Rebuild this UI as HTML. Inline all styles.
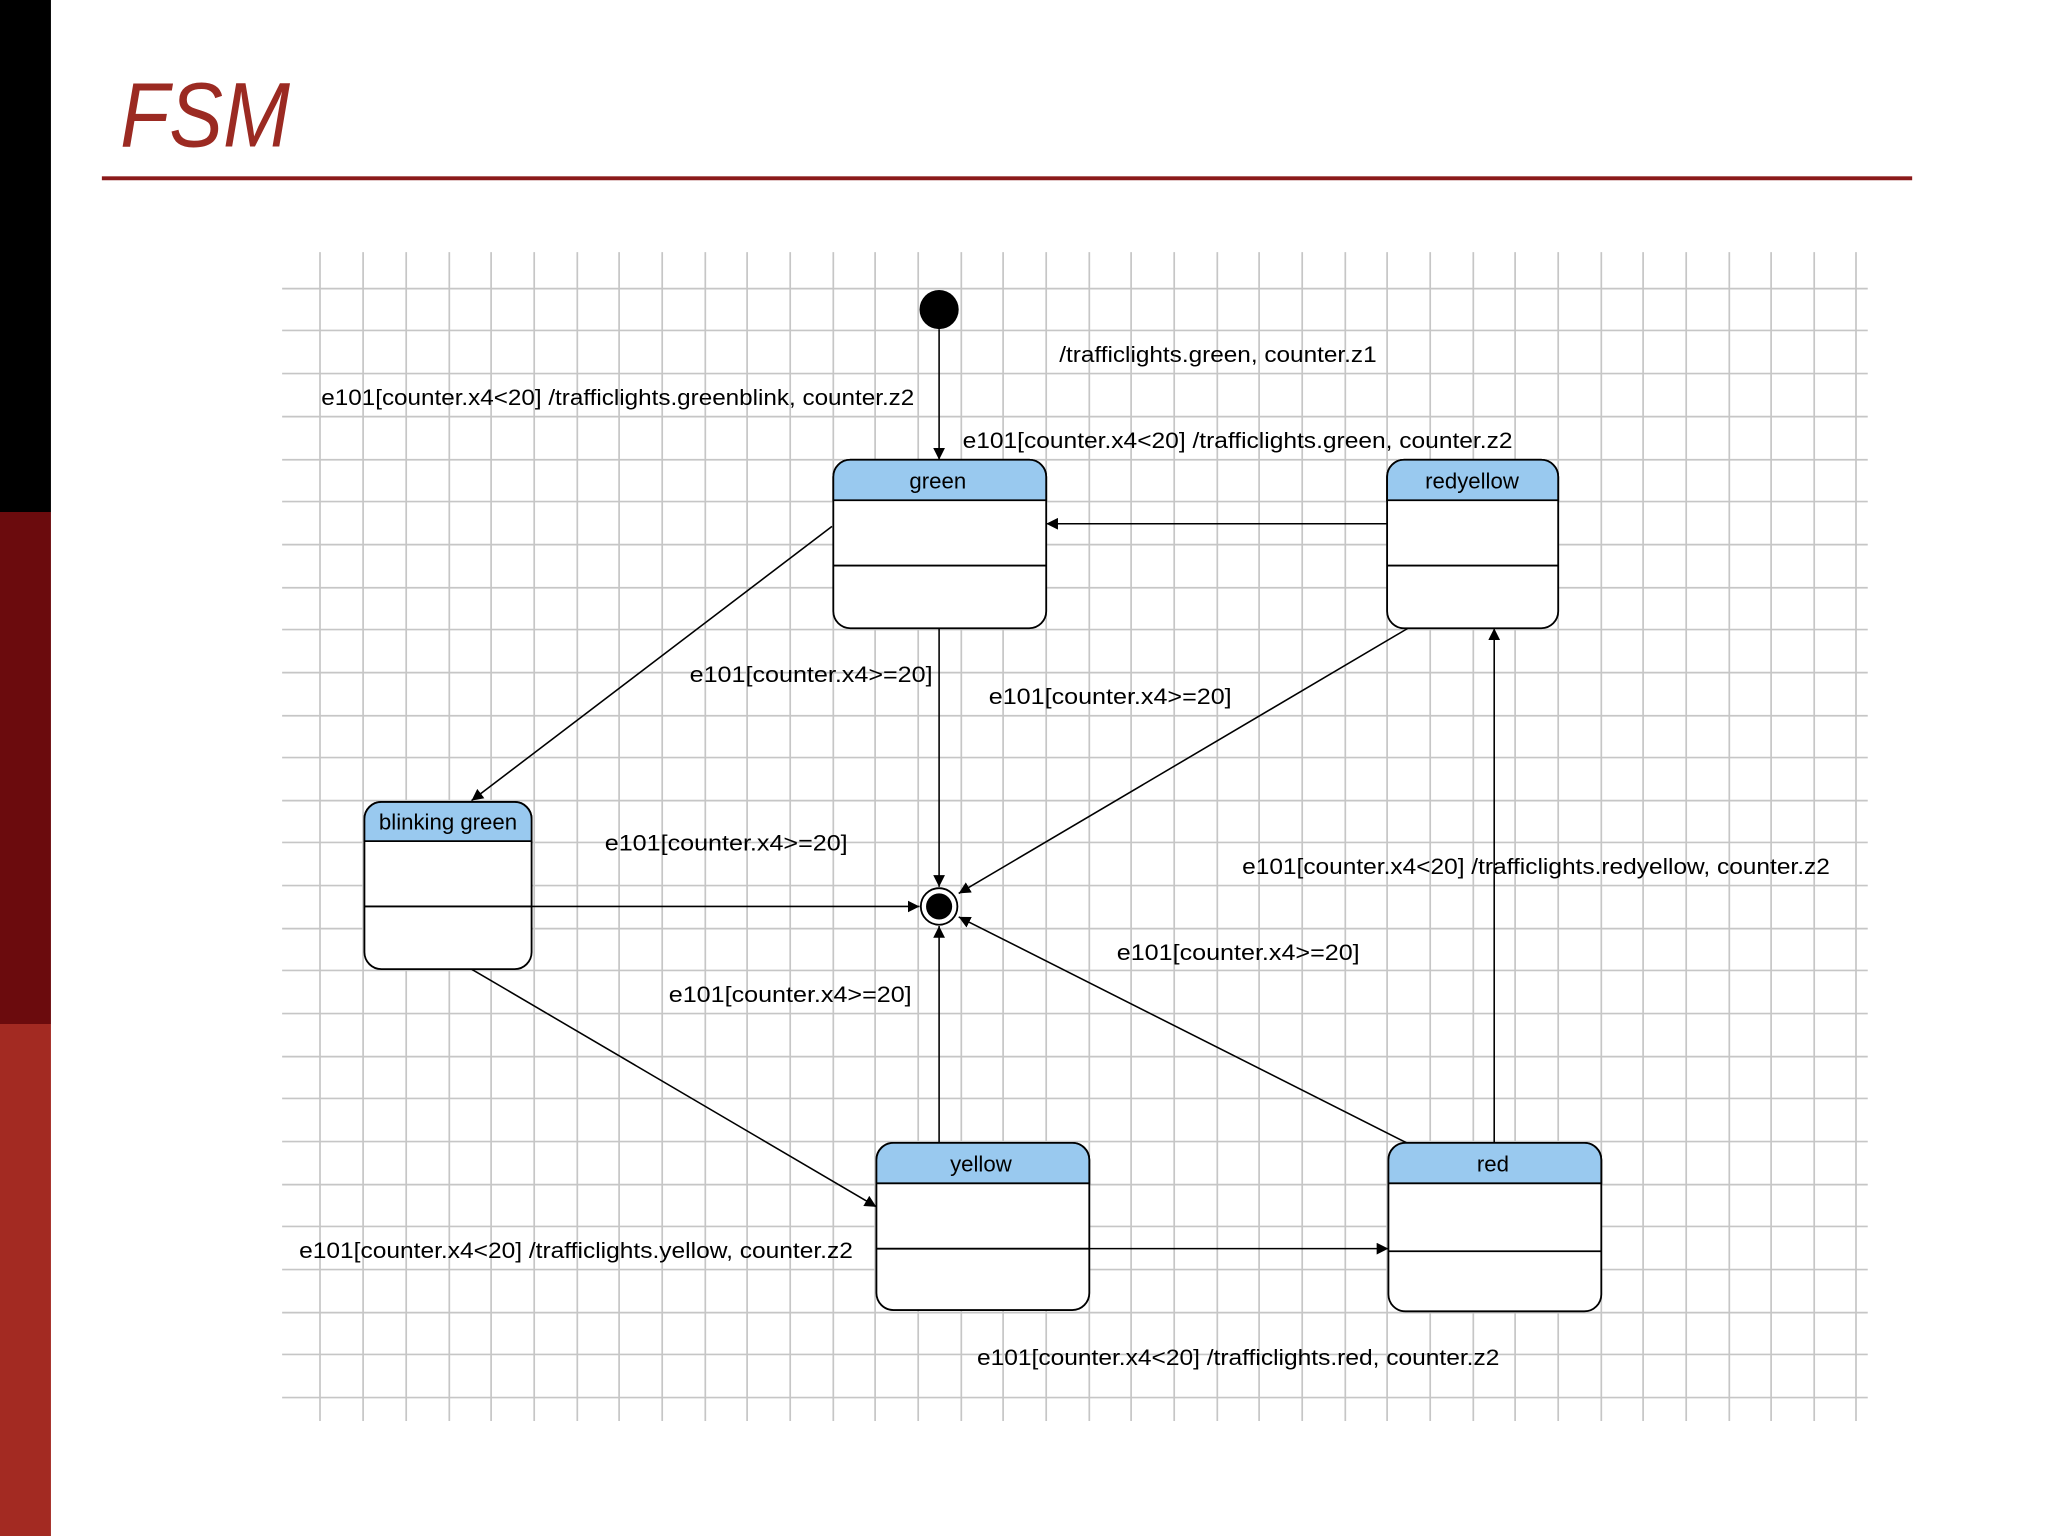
<!DOCTYPE html>
<html><head><meta charset="utf-8"><style>
html,body{margin:0;padding:0;background:#fff;}
svg{display:block;}
</style></head><body>
<svg width="2048" height="1536" viewBox="0 0 1568 1176" xmlns="http://www.w3.org/2000/svg">
<defs>
<marker id="a" viewBox="0 0 10 10" refX="10" refY="5" markerWidth="9" markerHeight="9" markerUnits="userSpaceOnUse" orient="auto">
<path d="M0,0 L10,5 L0,10 z" fill="#000"/>
</marker>
</defs>
<rect x="0" y="0" width="1568" height="1176" fill="#fff"/>
<rect x="0" y="0" width="39" height="392" fill="#000"/>
<rect x="0" y="392" width="39" height="392" fill="#6b0b0d"/>
<rect x="0" y="784" width="39" height="392" fill="#a32a22"/>
<text x="92" y="112" font-family="Liberation Sans, sans-serif" font-size="70" font-style="italic" fill="#9b2a22" textLength="130" lengthAdjust="spacingAndGlyphs">FSM</text>
<rect x="78" y="135" width="1386" height="3" fill="#8b1a1a"/>
<g stroke="#c6c6c6" stroke-width="1.3" id="grid">
<script></script>
</g>
<g stroke="#c6c6c6" stroke-width="1.3">
<line x1="245" y1="193" x2="245" y2="1088"/><line x1="278" y1="193" x2="278" y2="1088"/><line x1="311" y1="193" x2="311" y2="1088"/><line x1="344" y1="193" x2="344" y2="1088"/><line x1="376" y1="193" x2="376" y2="1088"/><line x1="409" y1="193" x2="409" y2="1088"/><line x1="442" y1="193" x2="442" y2="1088"/><line x1="474" y1="193" x2="474" y2="1088"/><line x1="507" y1="193" x2="507" y2="1088"/><line x1="540" y1="193" x2="540" y2="1088"/><line x1="572" y1="193" x2="572" y2="1088"/><line x1="605" y1="193" x2="605" y2="1088"/><line x1="638" y1="193" x2="638" y2="1088"/><line x1="670" y1="193" x2="670" y2="1088"/><line x1="703" y1="193" x2="703" y2="1088"/><line x1="736" y1="193" x2="736" y2="1088"/><line x1="768" y1="193" x2="768" y2="1088"/><line x1="801" y1="193" x2="801" y2="1088"/><line x1="834" y1="193" x2="834" y2="1088"/><line x1="866" y1="193" x2="866" y2="1088"/><line x1="899" y1="193" x2="899" y2="1088"/><line x1="932" y1="193" x2="932" y2="1088"/><line x1="964" y1="193" x2="964" y2="1088"/><line x1="997" y1="193" x2="997" y2="1088"/><line x1="1030" y1="193" x2="1030" y2="1088"/><line x1="1062" y1="193" x2="1062" y2="1088"/><line x1="1095" y1="193" x2="1095" y2="1088"/><line x1="1128" y1="193" x2="1128" y2="1088"/><line x1="1160" y1="193" x2="1160" y2="1088"/><line x1="1193" y1="193" x2="1193" y2="1088"/><line x1="1226" y1="193" x2="1226" y2="1088"/><line x1="1258" y1="193" x2="1258" y2="1088"/><line x1="1291" y1="193" x2="1291" y2="1088"/><line x1="1324" y1="193" x2="1324" y2="1088"/><line x1="1356" y1="193" x2="1356" y2="1088"/><line x1="1389" y1="193" x2="1389" y2="1088"/><line x1="1421" y1="193" x2="1421" y2="1088"/>
<line x1="216" y1="221" x2="1430" y2="221"/><line x1="216" y1="253" x2="1430" y2="253"/><line x1="216" y1="286" x2="1430" y2="286"/><line x1="216" y1="319" x2="1430" y2="319"/><line x1="216" y1="352" x2="1430" y2="352"/><line x1="216" y1="384" x2="1430" y2="384"/><line x1="216" y1="417" x2="1430" y2="417"/><line x1="216" y1="450" x2="1430" y2="450"/><line x1="216" y1="482" x2="1430" y2="482"/><line x1="216" y1="515" x2="1430" y2="515"/><line x1="216" y1="548" x2="1430" y2="548"/><line x1="216" y1="580" x2="1430" y2="580"/><line x1="216" y1="613" x2="1430" y2="613"/><line x1="216" y1="645" x2="1430" y2="645"/><line x1="216" y1="678" x2="1430" y2="678"/><line x1="216" y1="711" x2="1430" y2="711"/><line x1="216" y1="743" x2="1430" y2="743"/><line x1="216" y1="776" x2="1430" y2="776"/><line x1="216" y1="809" x2="1430" y2="809"/><line x1="216" y1="841" x2="1430" y2="841"/><line x1="216" y1="874" x2="1430" y2="874"/><line x1="216" y1="907" x2="1430" y2="907"/><line x1="216" y1="939" x2="1430" y2="939"/><line x1="216" y1="972" x2="1430" y2="972"/><line x1="216" y1="1005" x2="1430" y2="1005"/><line x1="216" y1="1037" x2="1430" y2="1037"/><line x1="216" y1="1070" x2="1430" y2="1070"/>
</g>

<!-- states -->
<g stroke="#000" stroke-width="1.4">
<g>
<rect x="638" y="352" width="163" height="129" rx="13" fill="#fff"/>
<path d="M638,383 V365 A13,13 0 0 1 651,352 H788 A13,13 0 0 1 801,365 V383 Z" fill="#99c9ef"/>
<line x1="638" y1="433" x2="801" y2="433"/>
</g>
<g>
<rect x="1062" y="352" width="131" height="129" rx="13" fill="#fff"/>
<path d="M1062,383 V365 A13,13 0 0 1 1075,352 H1180 A13,13 0 0 1 1193,365 V383 Z" fill="#99c9ef"/>
<line x1="1062" y1="433" x2="1193" y2="433"/>
</g>
<g>
<rect x="279" y="614" width="128" height="128" rx="13" fill="#fff"/>
<path d="M279,644 V627 A13,13 0 0 1 292,614 H394 A13,13 0 0 1 407,627 V644 Z" fill="#99c9ef"/>
<line x1="279" y1="694" x2="407" y2="694"/>
</g>
<g>
<rect x="671" y="875" width="163" height="128" rx="13" fill="#fff"/>
<path d="M671,906 V888 A13,13 0 0 1 684,875 H821 A13,13 0 0 1 834,888 V906 Z" fill="#99c9ef"/>
<line x1="671" y1="956" x2="834" y2="956"/>
</g>
<g>
<rect x="1063" y="875" width="163" height="129" rx="13" fill="#fff"/>
<path d="M1063,906 V888 A13,13 0 0 1 1076,875 H1213 A13,13 0 0 1 1226,888 V906 Z" fill="#99c9ef"/>
<line x1="1063" y1="958" x2="1226" y2="958"/>
</g>
</g>

<!-- pseudo states -->
<circle cx="719" cy="237" r="15" fill="#000"/>
<circle cx="719" cy="694" r="14" fill="#fff" stroke="#000" stroke-width="1.4"/>
<circle cx="719" cy="694" r="10" fill="#000"/>

<!-- transitions -->
<g stroke="#000" stroke-width="1.2" marker-end="url(#a)" fill="none">
<line x1="719" y1="252" x2="719" y2="352"/>
<line x1="1062" y1="401" x2="801" y2="401"/>
<line x1="637" y1="403" x2="361" y2="613"/>
<line x1="719" y1="481" x2="719" y2="679"/>
<line x1="1078" y1="481" x2="734" y2="684"/>
<line x1="407" y1="694" x2="704" y2="694"/>
<line x1="361" y1="742" x2="671" y2="924"/>
<line x1="719" y1="875" x2="719" y2="709"/>
<line x1="1077" y1="875" x2="734" y2="702"/>
<line x1="1144" y1="875" x2="1144" y2="481"/>
<line x1="834" y1="956" x2="1063" y2="956"/>
</g>

<g font-family="Liberation Sans, sans-serif" font-size="17" fill="#000" lengthAdjust="spacingAndGlyphs">
<text x="718" y="374" text-anchor="middle">green</text>
<text x="1127" y="374" text-anchor="middle">redyellow</text>
<text x="343" y="635" text-anchor="middle">blinking green</text>
<text x="751" y="897" text-anchor="middle">yellow</text>
<text x="1143" y="897" text-anchor="middle">red</text>

<text x="811" y="277" textLength="243" lengthAdjust="spacingAndGlyphs">/trafficlights.green, counter.z1</text>
<text x="246" y="310" textLength="454" lengthAdjust="spacingAndGlyphs">e101[counter.x4&lt;20] /trafficlights.greenblink, counter.z2</text>
<text x="737" y="343" textLength="421" lengthAdjust="spacingAndGlyphs">e101[counter.x4&lt;20] /trafficlights.green, counter.z2</text>
<text x="528" y="522" textLength="186" lengthAdjust="spacingAndGlyphs">e101[counter.x4&gt;=20]</text>
<text x="757" y="539" textLength="186" lengthAdjust="spacingAndGlyphs">e101[counter.x4&gt;=20]</text>
<text x="463" y="651" textLength="186" lengthAdjust="spacingAndGlyphs">e101[counter.x4&gt;=20]</text>
<text x="951" y="669" textLength="450" lengthAdjust="spacingAndGlyphs">e101[counter.x4&lt;20] /trafficlights.redyellow, counter.z2</text>
<text x="855" y="735" textLength="186" lengthAdjust="spacingAndGlyphs">e101[counter.x4&gt;=20]</text>
<text x="512" y="767" textLength="186" lengthAdjust="spacingAndGlyphs">e101[counter.x4&gt;=20]</text>
<text x="229" y="963" textLength="424" lengthAdjust="spacingAndGlyphs">e101[counter.x4&lt;20] /trafficlights.yellow, counter.z2</text>
<text x="748" y="1045" textLength="400" lengthAdjust="spacingAndGlyphs">e101[counter.x4&lt;20] /trafficlights.red, counter.z2</text>
</g>
</svg>
</body></html>
